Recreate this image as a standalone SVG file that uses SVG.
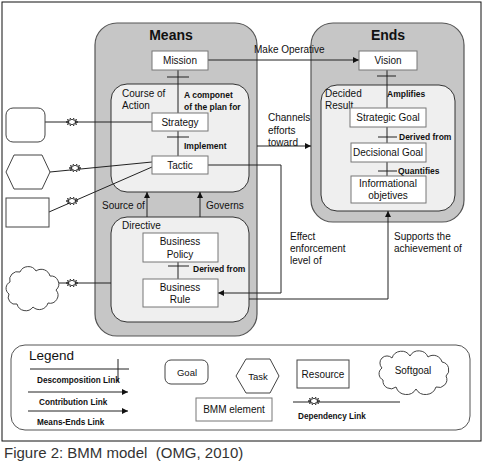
<svg xmlns="http://www.w3.org/2000/svg" width="485" height="463" viewBox="0 0 485 463">
<style>
text{font-family:"Liberation Sans",Arial,sans-serif;fill:#111;}
.t10{font-size:10px;}
.lbl{font-size:8.5px;font-weight:bold;}
.title{font-size:14px;font-weight:bold;}
.mid{text-anchor:middle;}
.box{fill:#fff;stroke:#777;stroke-width:1;}
.outer{fill:#c6c6c6;stroke:#555;stroke-width:1.2;}
.inner{fill:#efefef;stroke:#333;stroke-width:1;}
.ln{fill:none;stroke:#222;stroke-width:1;}
.arr{fill:none;stroke:#222;stroke-width:1;marker-end:url(#ah);}
.shape{fill:#fff;stroke:#444;stroke-width:1;}
</style>
<defs>
<marker id="ah" markerWidth="6" markerHeight="6" refX="6" refY="3" orient="auto" markerUnits="userSpaceOnUse">
<path d="M0,0 L6,3 L0,6 z" fill="#111"/>
</marker>
<path id="star" d="M6,0 L2.85,0.62 L4.85,2.35 L1.76,1.62 L1.85,3.8 L0,2 L-1.85,3.8 L-1.76,1.62 L-4.85,2.35 L-2.85,0.62 L-6,0 L-2.85,-0.62 L-4.85,-2.35 L-1.76,-1.62 L-1.85,-3.8 L0,-2 L1.85,-3.8 L1.76,-1.62 L4.85,-2.35 L2.85,-0.62 z" fill="#fff" stroke="#111" stroke-width="0.8"/>
</defs>
<rect width="485" height="463" fill="#fff"/>
<rect x="2" y="2" width="479" height="439" fill="none" stroke="#111" stroke-width="1"/>

<!-- containers -->
<g id="means">
<rect class="outer" x="95" y="23" width="162" height="313" rx="22"/>
<text class="title mid" x="171" y="40">Means</text>
</g>
<g id="ends">
<rect class="outer" x="311" y="23" width="153" height="199" rx="22"/>
<text class="title mid" x="388" y="40">Ends</text>
</g>
<g id="course-of-action">
<rect class="inner" x="111" y="84" width="138" height="108" rx="16"/>
<text class="t10" x="122" y="97">Course of</text>
<text class="t10" x="122" y="109">Action</text>
</g>
<g id="directive">
<rect class="inner" x="111" y="217" width="138" height="105" rx="16"/>
<text class="t10" x="122" y="229">Directive</text>
</g>
<g id="decided-result">
<rect class="inner" x="321" y="85" width="134" height="126" rx="16"/>
<text class="t10" x="325" y="97">Decided</text>
<text class="t10" x="325" y="109">Result</text>
</g>

<!-- connectors -->
<g id="connectors">
<line class="ln" x1="178" y1="70" x2="178" y2="113"/>
<line class="ln" x1="167" y1="77" x2="189" y2="77"/>
<line class="ln" x1="178" y1="131" x2="178" y2="156"/>
<line class="ln" x1="167" y1="137" x2="189" y2="137"/>
<line class="ln" x1="178" y1="262" x2="178" y2="279"/>
<line class="ln" x1="168" y1="266" x2="189" y2="266"/>
<line class="ln" x1="387" y1="70" x2="387" y2="108"/>
<line class="ln" x1="377" y1="76" x2="396" y2="76"/>
<line class="ln" x1="387" y1="127" x2="387" y2="143"/>
<line class="ln" x1="378" y1="137" x2="397" y2="137"/>
<line class="ln" x1="387" y1="162" x2="387" y2="176"/>
<line class="ln" x1="378" y1="171" x2="397" y2="171"/>
<line class="arr" x1="208" y1="60" x2="359" y2="60"/>
<polyline class="arr" points="208,165 281,165 281,293 218,293"/>
<line class="arr" x1="257" y1="146" x2="311" y2="146"/>
<line class="arr" x1="147" y1="217" x2="147" y2="192"/>
<line class="arr" x1="200" y1="217" x2="200" y2="192"/>
<polyline class="arr" points="249,299 388,299 388,211"/>
<line class="ln" x1="45" y1="122" x2="152" y2="122"/>
<line class="ln" x1="50" y1="172" x2="152" y2="162"/>
<line class="ln" x1="49" y1="212" x2="152" y2="167"/>
<line class="ln" x1="58" y1="283" x2="111" y2="283"/>
<use href="#star" x="72" y="122"/>
<use href="#star" x="75" y="168"/>
<use href="#star" x="72" y="201"/>
<use href="#star" x="72" y="283"/>
<text class="t10" x="254" y="53">Make Operative</text>
<text class="lbl" x="184" y="98">A componet</text>
<text class="lbl" x="184" y="110">of the plan for</text>
<text class="lbl" x="184" y="149">Implement</text>
<text class="t10" x="268" y="121">Channels</text>
<text class="t10" x="268" y="134">efforts</text>
<text class="t10" x="268" y="146">toward</text>
<text class="t10" x="102" y="209">Source of</text>
<text class="t10" x="206" y="209">Governs</text>
<text class="lbl" x="193" y="272">Derived from</text>
<text class="t10" x="290" y="240">Effect</text>
<text class="t10" x="290" y="252">enforcement</text>
<text class="t10" x="290" y="264">level of</text>
<text class="t10" x="394" y="240">Supports the</text>
<text class="t10" x="394" y="252">achievement of</text>
<text class="lbl" x="387" y="97">Amplifies</text>
<text class="lbl" x="399" y="140">Derived from</text>
<text class="lbl" x="398" y="174">Quantifies</text>
</g>

<!-- nodes -->
<g id="mission"><rect class="box" x="152" y="51" width="56" height="19"/><text class="t10 mid" x="180" y="64">Mission</text></g>
<g id="strategy"><rect class="box" x="152" y="113" width="56" height="18"/><text class="t10 mid" x="180" y="125.5">Strategy</text></g>
<g id="tactic"><rect class="box" x="152" y="156" width="56" height="18"/><text class="t10 mid" x="180" y="168.5">Tactic</text></g>
<g id="business-policy"><rect class="box" x="143" y="233" width="75" height="29"/><text class="t10 mid" x="180" y="245">Business</text><text class="t10 mid" x="180" y="258">Policy</text></g>
<g id="business-rule"><rect class="box" x="143" y="279" width="75" height="28"/><text class="t10 mid" x="180" y="290.5">Business</text><text class="t10 mid" x="180" y="303">Rule</text></g>
<g id="vision"><rect class="box" x="359" y="51" width="58" height="19"/><text class="t10 mid" x="388" y="64">Vision</text></g>
<g id="strategic-goal"><rect class="box" x="350" y="108" width="76" height="19"/><text class="t10 mid" x="388" y="121">Strategic Goal</text></g>
<g id="decisional-goal"><rect class="box" x="351" y="143" width="75" height="19"/><text class="t10 mid" x="388" y="156">Decisional Goal</text></g>
<g id="informational-objectives"><rect class="box" x="351" y="176" width="75" height="27"/><text class="t10 mid" x="388" y="187">Informational</text><text class="t10 mid" x="388" y="199">objetives</text></g>

<g id="goal-left"><rect class="shape" x="6" y="108" width="39" height="34" rx="7"/></g>
<g id="task-left"><polygon class="shape" points="6,172 14,155 42,155 50,172 42,189 14,189"/></g>
<g id="resource-left"><rect class="shape" x="6" y="198" width="43" height="29"/></g>
<g id="softgoal-left"><path class="shape" d="M10,282 A8,8 0 0 1 20,272 A9,9 0 0 1 36,271 A9,9 0 0 1 50,276 A8,8 0 0 1 56,290 A8,8 0 0 1 48,303 A9,9 0 0 1 33,307 A9,9 0 0 1 17,304 A7,7 0 0 1 9,294 A7,7 0 0 1 10,282 z"/></g>

<!-- legend -->
<g id="legend">
<rect x="11" y="345" width="459" height="85" rx="14" fill="#fff" stroke="#555" stroke-width="1"/>
<text x="29" y="360" style="font-size:13.5px;">Legend</text>
<line class="ln" x1="30" y1="369" x2="129" y2="369"/>
<line class="ln" x1="118" y1="359" x2="118" y2="382"/>
<text x="37" y="383" style="font-size:8.2px;font-weight:bold;">Descomposition Link</text>
<line class="arr" x1="28" y1="392" x2="128" y2="392"/>
<text x="39" y="405" style="font-size:8.2px;font-weight:bold;">Contribution Link</text>
<line class="arr" x1="28" y1="411" x2="128" y2="411"/>
<text x="37" y="425" style="font-size:8.2px;font-weight:bold;">Means-Ends Link</text>
<rect class="shape" x="165" y="360" width="43" height="24" rx="6"/>
<text class="mid" x="187" y="376" style="font-size:9.5px;">Goal</text>
<polygon class="shape" points="236,376 246,359 270,359 279,376 270,393 246,393"/>
<text class="mid" x="258" y="380" style="font-size:9.5px;">Task</text>
<rect class="shape" x="297" y="360" width="52" height="28"/>
<text class="t10 mid" x="323" y="378">Resource</text>
<path class="shape" d="M382,368 A7,7 0 0 1 392,358 A10,10 0 0 1 410,356 A10,10 0 0 1 428,357 A9,9 0 0 1 442,362 A8,8 0 0 1 446,376 A8,8 0 0 1 436,387 A11,11 0 0 1 416,389 A11,11 0 0 1 396,387 A8,8 0 0 1 383,380 A7,7 0 0 1 382,368 z"/>
<text class="t10 mid" x="413" y="374">Softgoal</text>
<rect class="box" x="196" y="398" width="76" height="23"/>
<text class="t10 mid" x="234" y="413">BMM element</text>
<line class="ln" x1="293" y1="402" x2="400" y2="402"/>
<use href="#star" x="314" y="401"/>
<text x="298" y="419" style="font-size:8.2px;font-weight:bold;">Dependency Link</text>
</g>

<text x="4" y="458" style="font-size:15px;white-space:pre;fill:#333;">Figure 2: BMM model  (OMG, 2010)</text>
</svg>
